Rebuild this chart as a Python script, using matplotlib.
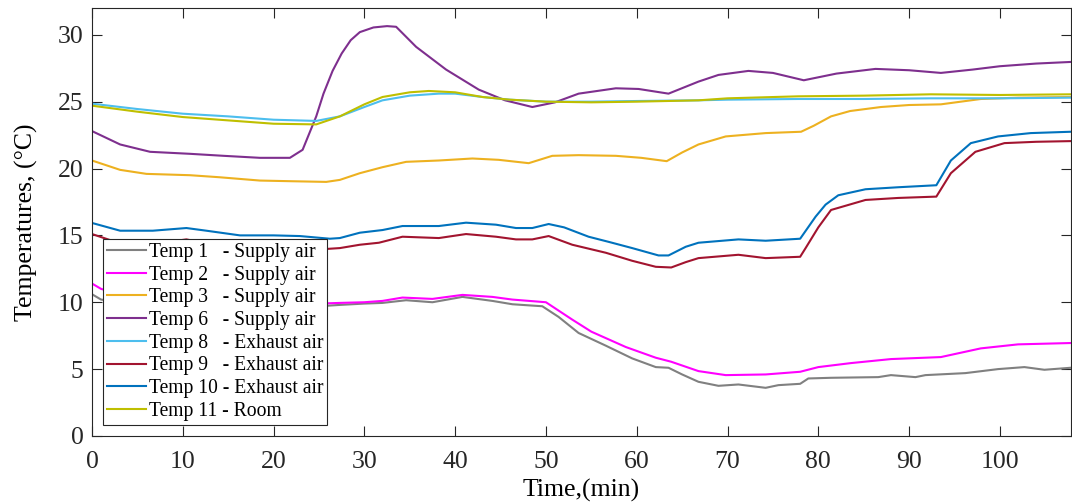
import numpy as np
import matplotlib
matplotlib.use("Agg")
import matplotlib.pyplot as plt

plt.rcParams['font.family'] = ['Liberation Serif', 'DejaVu Serif']
plt.rcParams['mathtext.fontset'] = 'stix'

# Temp 1 - Supply air
t1_x = [0, 1, 3, 6, 10, 15, 20, 25, 27.3, 30, 32, 34.6, 37.5, 40.8, 44.1, 46.3, 49.6, 51.4, 53.6, 56.6,
        59.5, 62.1, 63.5, 65, 66.8, 69, 71.2, 74.2, 75.6, 78, 78.9, 81.4, 86.6, 88, 90.7, 91.8, 96.2,
        99.8, 102.7, 104.9, 107.8]
t1_y = [10.6, 10.2, 10.0, 9.9, 9.9, 9.8, 9.8, 9.7, 9.8, 9.9, 9.95, 10.15, 10.0, 10.4, 10.1, 9.85, 9.7, 8.9,
        7.7, 6.75, 5.8, 5.15, 5.1, 4.6, 4.05, 3.75, 3.85, 3.6, 3.8, 3.9, 4.3, 4.35, 4.4, 4.55, 4.4, 4.55,
        4.7, 5.0, 5.15, 4.95, 5.1]

# Temp 2 - Supply air
t2_x = [0, 1, 3, 6, 10, 15, 20, 25, 27.3, 30, 32, 34.2, 37.5, 40.8, 44.1, 46.3, 50, 52.9, 55, 58.8, 62.1,
        63.8, 66.8, 69.8, 74.2, 78, 80, 83.6, 88, 93.5, 97.9, 102, 107.8]
t2_y = [11.4, 11.0, 10.6, 10.3, 10.2, 10.1, 10.0, 9.9, 9.95, 10.0, 10.1, 10.35, 10.25, 10.55, 10.4, 10.2,
        10.0, 8.7, 7.8, 6.65, 5.85, 5.55, 4.85, 4.55, 4.6, 4.8, 5.15, 5.45, 5.75, 5.9, 6.55, 6.85, 6.95]

# Temp 3 - Supply air
t3_x = [0, 3.1, 6, 10.8, 14, 18.5, 22, 25.8, 27.3, 29.5, 32, 34.6, 38.2, 41.9, 44.8, 48.1, 50.7, 53.6,
        57.7, 60.5, 63.3, 65, 66.8, 69.8, 74.2, 78.1, 79.5, 81.4, 83.5, 86.9, 90, 93.5, 97.9, 102, 107.8]
t3_y = [20.6, 19.9, 19.6, 19.5, 19.35, 19.1, 19.05, 19.0, 19.15, 19.65, 20.1, 20.5, 20.6, 20.75, 20.65,
        20.4, 20.95, 21.0, 20.95, 20.8, 20.55, 21.2, 21.8, 22.4, 22.65, 22.75, 23.2, 23.9, 24.3, 24.6,
        24.75, 24.8, 25.2, 25.3, 25.35]

# Temp 6 - Supply air
t6_x = [0, 3.1, 6.4, 10.8, 14.5, 18.5, 21.8, 23.2, 24.7, 25.5, 26.5, 27.5, 28.5, 29.5, 31, 32.5, 33.5,
        35.7, 39, 42.6, 45.5, 48.5, 51, 53.6, 57.7, 60.2, 63.5, 66.8, 69, 72.3, 75, 78.4, 82, 86.3, 90,
        93.5, 97, 100, 104, 107.8]
t6_y = [22.8, 21.8, 21.25, 21.1, 20.95, 20.8, 20.8, 21.4, 23.9, 25.6, 27.3, 28.6, 29.6, 30.2, 30.55, 30.65,
        30.6, 29.1, 27.4, 25.9, 25.1, 24.6, 24.95, 25.6, 26.0, 25.95, 25.6, 26.5, 27.0, 27.3, 27.15, 26.6,
        27.1, 27.45, 27.35, 27.15, 27.4, 27.65, 27.85, 27.97]

# Temp 8 - Exhaust air
t8_x = [0, 5, 10, 15, 20, 24.7, 27.3, 30, 32, 35, 38.2, 40, 43, 46, 50, 55, 60, 66.8, 70, 77.8, 85, 92.4,
        100, 107.8]
t8_y = [24.85, 24.45, 24.1, 23.9, 23.65, 23.56, 23.9, 24.6, 25.1, 25.45, 25.6, 25.6, 25.35, 25.15, 25.0,
        25.0, 25.05, 25.1, 25.15, 25.2, 25.2, 25.25, 25.25, 25.3]

# Temp 9 - Exhaust air
t9_x = [0, 3.1, 6.7, 10.4, 12.6, 16, 20, 25, 27.3, 29.5, 31.6, 34.2, 38.2, 41.2, 44.5, 46.7, 48.5, 50.3,
        52.9, 56.6, 59.5, 62.1, 63.8, 65.4, 66.8, 71.2, 74.2, 78, 78.6, 80, 81.4, 85.2, 88.8, 93, 94.6,
        97.3, 100.5, 104, 107.8]
t9_y = [15.1, 14.4, 14.35, 14.7, 14.4, 14.1, 14.0, 13.95, 14.05, 14.3, 14.45, 14.9, 14.8, 15.1, 14.9, 14.7,
        14.7, 14.95, 14.3, 13.7, 13.1, 12.65, 12.6, 13.0, 13.3, 13.55, 13.3, 13.4, 14.05, 15.6, 16.9,
        17.65, 17.8, 17.9, 19.65, 21.25, 21.9, 22.0, 22.05]

# Temp 10 - Exhaust air
t10_x = [0, 3.1, 6.7, 10.4, 12.6, 16.3, 20, 22.9, 26.2, 27.3, 29.5, 32, 34.2, 38.2, 41.2, 44.5, 46.7, 48.5,
         50.3, 52, 54.7, 57, 59.5, 62.4, 63.5, 65.4, 66.8, 71.2, 74.2, 78, 79.7, 80.8, 82.2, 85.2, 88.8,
         93, 94.6, 96.8, 99.8, 103.4, 107.8]
t10_y = [15.93, 15.35, 15.35, 15.55, 15.35, 15.0, 15.0, 14.95, 14.75, 14.8, 15.2, 15.4, 15.7, 15.7, 15.95,
         15.8, 15.55, 15.55, 15.85, 15.6, 14.9, 14.5, 14.05, 13.5, 13.5, 14.15, 14.45, 14.7, 14.6, 14.75,
         16.4, 17.3, 18.0, 18.45, 18.6, 18.75, 20.6, 21.9, 22.4, 22.65, 22.75]

# Temp 11 - Room
t11_x = [0, 5, 10, 15, 20, 24.7, 27.3, 30, 32, 35, 37.1, 40, 43, 46, 50, 55, 60, 66.8, 70, 77.8, 85, 92.4,
         100, 107.8]
t11_y = [24.7, 24.25, 23.85, 23.6, 23.35, 23.3, 23.9, 24.8, 25.35, 25.7, 25.8, 25.7, 25.35, 25.15, 25.0,
         24.95, 25.0, 25.1, 25.25, 25.4, 25.45, 25.55, 25.5, 25.55]

series = [
    (t1_x, t1_y, 'Temp 1   - Supply air', '#808080'),
    (t2_x, t2_y, 'Temp 2   - Supply air', '#FF00FF'),
    (t3_x, t3_y, 'Temp 3   - Supply air', '#EDB120'),
    (t6_x, t6_y, 'Temp 6   - Supply air', '#7E2F8E'),
    (t8_x, t8_y, 'Temp 8   - Exhaust air', '#4DBEEE'),
    (t9_x, t9_y, 'Temp 9   - Exhaust air', '#A2142F'),
    (t10_x, t10_y, 'Temp 10 - Exhaust air', '#0072BD'),
    (t11_x, t11_y, 'Temp 11 - Room', '#BFBF00'),
]

fig = plt.figure(figsize=(10.72, 5.04), dpi=100)
ax = fig.add_axes([0.0858, 0.135, 0.913, 0.849])

for xs, ys, lab, col in series:
    ax.plot(xs, ys, color=col, linewidth=1.5, label=lab)

ax.set_xlim(0, 107.8)
ax.set_ylim(0, 32)
ax.set_xticks(np.arange(0, 101, 10))
ax.set_yticks(np.arange(0, 31, 5))
ax.tick_params(direction='in', length=7, width=0.8, top=True, right=True,
               labelsize=18.5, colors='#262626', pad=6)
ax.tick_params(axis='x', pad=11)
for s in ax.spines.values():
    s.set_color('#262626')
    s.set_linewidth(0.8)

ax.set_xlabel('Time,(min)', fontsize=18.5, labelpad=4)
ax.set_ylabel('Temperatures, (°C)', fontsize=18.5, labelpad=14.5)

leg = ax.legend(loc='lower left', bbox_to_anchor=(0.011, 0.026), fontsize=14.1,
                labelspacing=0.19, handlelength=2.0, handletextpad=0.15,
                borderpad=0.2, borderaxespad=0, fancybox=False, framealpha=1)
leg.get_frame().set_edgecolor('#262626')
leg.get_frame().set_linewidth(0.8)

fig.savefig('out.png', dpi=100)
